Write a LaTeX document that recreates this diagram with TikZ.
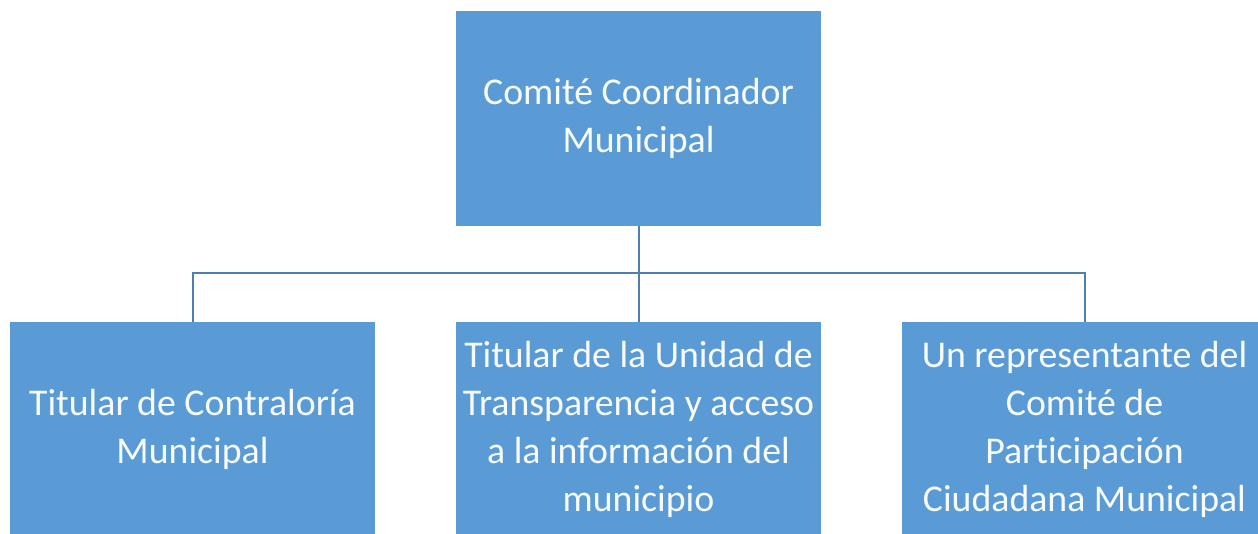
\documentclass[tikz,border=0pt]{standalone}
\usepackage{fontspec}
\setmainfont[Ligatures=NoCommon]{Carlito}
\definecolor{azulcaja}{HTML}{5B9BD5}
\definecolor{azullinea}{HTML}{4F7FAF}
\begin{document}
\begin{tikzpicture}[
    x=1pt, y=-1pt,
    font=\fontsize{37.8}{48}\selectfont,
    caja/.style={rectangle, fill=azulcaja, text=white!96!azulcaja, align=center,
                 minimum width=365pt, minimum height=215pt, inner sep=0pt},
    linea/.style={azullinea, line width=2pt},
  ]

  % --- marco de la figura ---------------------------------------------
  \useasboundingbox (0,0) rectangle (1258,533);
  \clip (0,0) rectangle (1258,533);

  % --- el comite ------------------------------------------------------
  \node[caja] (comite) at (638.5,118.5) {Comité Coordinador\\Municipal};

  % --- los tres titulares ---------------------------------------------
  \node[caja] (contraloria)   at (192.5,429.5)  {Titular de Contraloría\\Municipal};
  \node[caja] (transparencia) at (638.5,429.5)  {Titular de la Unidad de\\Transparencia y acceso\\a la información del\\municipio};
  \node[caja] (participacion) at (1084.5,429.5) {Un representante del\\Comité de\\Participación\\Ciudadana Municipal};

  % --- conectores -----------------------------------------------------
  \coordinate (barra) at (comite.south |- 0,273);
  \draw[linea] (comite.south) -- (barra);
  \draw[linea] (contraloria.north) |- (barra) -| (participacion.north);
  \draw[linea] (barra) -- (transparencia.north);

\end{tikzpicture}
\end{document}
